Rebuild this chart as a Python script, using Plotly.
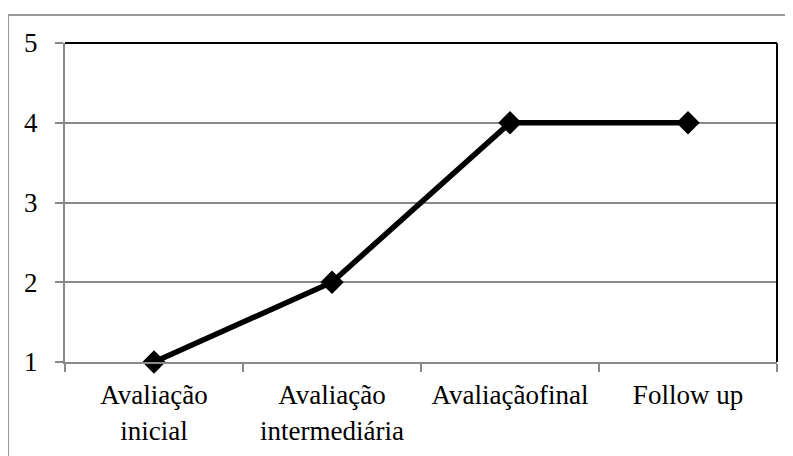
import plotly.graph_objects as go

categories = ["Avaliação<br>inicial", "Avaliação<br>intermediária", "Avaliaçãofinal", "Follow up"]
values = [1, 2, 4, 4]
y_ticks = [1, 2, 3, 4, 5]

fig = go.Figure()
fig.add_trace(go.Scatter(
    x=categories, y=values, mode="lines+markers",
    line=dict(color="black", width=5.5),
    marker=dict(symbol="diamond", size=18, color="black"),
    cliponaxis=False,
))

grey = "#898989"
fig.update_layout(
    width=785, height=448,
    margin=dict(l=57, r=16, t=35, b=94),
    paper_bgcolor="white", plot_bgcolor="white",
    font=dict(family="'Times New Roman', 'Liberation Serif', serif", size=27, color="black"),
    showlegend=False,
    xaxis=dict(
        type="category", range=[-0.5, 3.5], automargin=False,
        showgrid=False, showline=True, linecolor=grey, linewidth=2,
        ticks="outside", tickson="boundaries", ticklen=8, tickcolor=grey, tickwidth=2,
        zeroline=False, ticklabelstandoff=8,
    ),
    yaxis=dict(
        range=[1, 5], tickvals=y_ticks, automargin=False,
        showgrid=True, gridcolor=grey, gridwidth=1.5,
        showline=True, linecolor=grey, linewidth=2,
        ticks="outside", ticklen=8, tickcolor=grey, tickwidth=2,
        zeroline=False, ticklabelstandoff=12,
    ),
    shapes=[
        dict(type="line", xref="paper", yref="paper", x0=0, x1=1, y0=1, y1=1,
             line=dict(color="black", width=2)),
        dict(type="line", xref="paper", yref="paper", x0=1, x1=1, y0=0, y1=1,
             line=dict(color="black", width=2)),
        dict(type="rect", xref="paper", yref="paper", x0=-0.08, x1=1.05, y0=-0.4, y1=1.088,
             line=dict(color="#9a9a9a", width=2), layer="below"),
    ],
)

fig.write_html("out.html")
